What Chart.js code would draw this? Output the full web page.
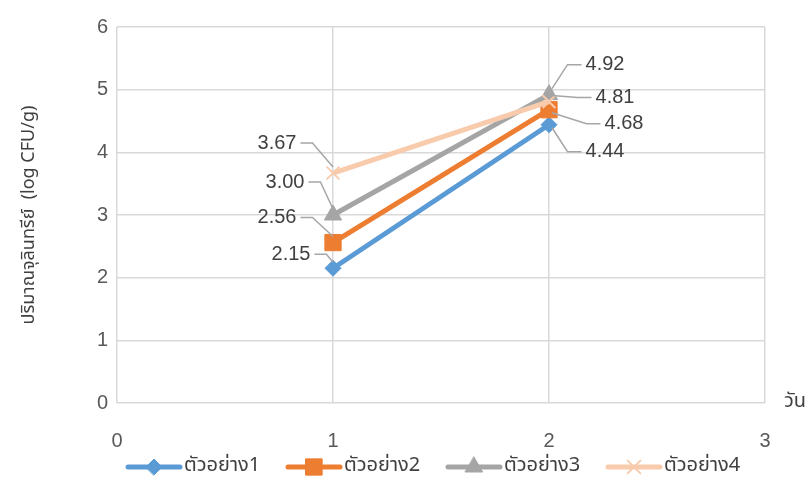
<!DOCTYPE html>
<html>
<head>
<meta charset="utf-8">
<script src="https://cdn.jsdelivr.net/npm/chart.js@4/dist/chart.umd.min.js"></script>
<style>
  html, body { margin: 0; padding: 0; background: #ffffff; }
  #wrap { width: 808px; height: 482px; }
</style>
</head>
<body>
<div id="wrap"><canvas id="c" width="808" height="482"></canvas></div>
<script>
// Days on the x axis and the four sample series (log CFU/g)
const days = [1, 2];
const seriesNames = ['ตัวอย่าง1', 'ตัวอย่าง2', 'ตัวอย่าง3', 'ตัวอย่าง4'];
const sample1 = [2.15, 4.44];
const sample2 = [2.56, 4.68];
const sample3 = [3.00, 4.92];
const sample4 = [3.67, 4.81];
const yTitle = 'ปริมาณจุลินทรีย์  (log CFU/g)';
const xTitle = 'วัน';

const colors = ['#5B9BD5', '#ED7D31', '#A5A5A5', '#F8CBAD'];
const markers = ['rectRot', 'rect', 'triangle', 'crossRot'];
const markerRadius = [8, 11.5, 10, 9];

// label placement relative to each point: [dx, dy] in pixels
const labelOffsets = [
  [[-42, -14], [56, 27]],
  [[-56, -25], [75, 14]],
  [[-48, -33], [56, -30]],
  [[-56, -30], [66, -4]]
];

const FONT = "'Liberation Sans', Arial, sans-serif";
const NARROW = "'Liberation Sans Narrow', 'Arial Narrow', 'Liberation Sans', sans-serif";
const THAI_FONT = "'Noto Sans Thai', 'Leelawadee UI', 'Liberation Sans Narrow', 'Liberation Sans', sans-serif";

const allSeries = [sample1, sample2, sample3, sample4];

// data labels with bent leader lines, the x axis name and the legend row
const extras = {
  id: 'extras',
  afterDatasetsDraw(chart) {
    const ctx = chart.ctx;
    ctx.save();
    ctx.font = '20px ' + FONT;
    ctx.textAlign = 'center';
    ctx.textBaseline = 'middle';
    chart.data.datasets.forEach((ds, di) => {
      const meta = chart.getDatasetMeta(di);
      meta.data.forEach((pt, pi) => {
        const v = ds.data[pi].y;
        const [dx, dy] = labelOffsets[di][pi];
        const lx = pt.x + dx, ly = pt.y + dy;
        const txt = v.toFixed(2);
        const w = ctx.measureText(txt).width;
        const left = dx < 0;
        const sx = left ? lx + w / 2 + 4 : lx - w / 2 - 4;
        const mx = left ? sx + 12 : sx - 14;
        const ex = pt.x + (left ? 0 : 3);
        const ey = pt.y + (dy < 0 ? -6 : 3);
        ctx.strokeStyle = '#A6A6A6';
        ctx.lineWidth = 1.5;
        ctx.beginPath();
        ctx.moveTo(sx, ly); ctx.lineTo(mx, ly); ctx.lineTo(ex, ey);
        ctx.stroke();
        ctx.fillStyle = '#404040';
        ctx.fillText(txt, lx, ly);
      });
    });
    ctx.restore();
  },
  afterDraw(chart) {
    const ctx = chart.ctx;
    const area = chart.chartArea;
    ctx.save();
    // x axis name at the right end of the axis
    ctx.font = '20px ' + THAI_FONT;
    ctx.fillStyle = '#404040';
    ctx.textAlign = 'center';
    ctx.textBaseline = 'middle';
    ctx.fillText(xTitle, 795, area.bottom);

    // legend: line + marker swatch followed by the series name
    const legendY = 467;
    const start = 128, step = 160, lineLen = 52;
    chart.data.datasets.forEach((ds, i) => {
      const x0 = start + step * i;
      ctx.strokeStyle = colors[i];
      ctx.fillStyle = colors[i];
      ctx.lineWidth = 5;
      ctx.lineCap = 'round';
      ctx.beginPath(); ctx.moveTo(x0, legendY); ctx.lineTo(x0 + lineLen, legendY); ctx.stroke();
      ctx.lineWidth = i === 3 ? 2 : 1;
      Chart.helpers.drawPoint(ctx, {
        pointStyle: markers[i], radius: markerRadius[i], rotation: 0, borderWidth: ctx.lineWidth
      }, x0 + lineLen / 2, legendY);
      ctx.fillStyle = '#404040';
      ctx.textAlign = 'left';
      ctx.font = '20px ' + THAI_FONT;
      ctx.fillText(ds.label, x0 + lineLen + 4, legendY);
    });
    ctx.restore();
  }
};

const datasets = allSeries.map((vals, i) => ({
  label: seriesNames[i],
  data: days.map((d, k) => ({ x: d, y: vals[k] })),
  borderColor: colors[i],
  backgroundColor: colors[i],
  borderWidth: 5,
  pointStyle: markers[i],
  pointRadius: markerRadius[i],
  pointBorderWidth: i === 3 ? 2 : 1,
  pointBorderColor: colors[i],
  pointBackgroundColor: colors[i],
  order: 3 - i,
  tension: 0
}));

new Chart(document.getElementById('c'), {
  type: 'line',
  data: { datasets },
  plugins: [extras],
  options: {
    responsive: false,
    animation: false,
    layout: { padding: { top: 27, right: 43, left: 0, bottom: 0 } },
    scales: {
      x: {
        type: 'linear', min: 0, max: 3,
        ticks: { stepSize: 1, padding: 26, color: '#595959', font: { family: NARROW, size: 20 } },
        grid: { color: '#D9D9D9', lineWidth: 1.5, drawTicks: false },
        border: { display: false },
        afterFit(scale) { scale.height = 79; }
      },
      y: {
        min: 0, max: 6,
        ticks: { stepSize: 1, padding: 9, color: '#595959', font: { family: NARROW, size: 20 } },
        grid: { color: '#D9D9D9', lineWidth: 1.5, drawTicks: false },
        border: { display: false },
        title: { display: true, text: yTitle, color: '#404040', font: { family: THAI_FONT, size: 18 }, padding: { top: 20, bottom: 0 } },
        afterFit(scale) { scale.width = 117; }
      }
    },
    plugins: {
      tooltip: { enabled: false },
      legend: { display: false }
    }
  }
});
</script>
</body>
</html>
